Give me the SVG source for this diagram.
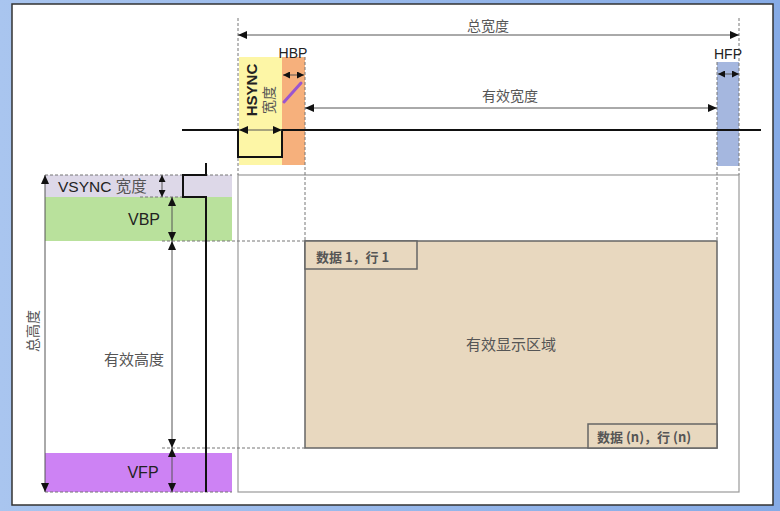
<svg xmlns="http://www.w3.org/2000/svg" width="780" height="511" viewBox="0 0 780 511">
  <defs>
    <linearGradient id="frameGrad" x1="0" y1="0" x2="1" y2="0">
      <stop offset="0" stop-color="#a9c5ef"/>
      <stop offset="1" stop-color="#86abe6"/>
    </linearGradient>
    <marker id="head" viewBox="0 0 9 8" refX="9" refY="4" markerWidth="9" markerHeight="8" markerUnits="userSpaceOnUse" orient="auto-start-reverse">
      <path d="M0,0 L9,4 L0,8 z" fill="#111"/>
    </marker>
    <marker id="headSmall" viewBox="0 0 7 7" refX="7" refY="3.5" markerWidth="7" markerHeight="7" markerUnits="userSpaceOnUse" orient="auto-start-reverse">
      <path d="M0,0 L7,3.5 L0,7 z" fill="#111"/>
    </marker>
    <style>
      .dim { stroke: #555; stroke-width: 1; fill: none; marker-start: url(#head); marker-end: url(#head); }
      .dimS { stroke: #555; stroke-width: 1; fill: none; marker-start: url(#headSmall); marker-end: url(#headSmall); }
      .dash { stroke: #777; stroke-width: 1; stroke-dasharray: 3 2; fill: none; }
      .signal { stroke: #111; stroke-width: 2; fill: none; }
      .lat { font-family: "Liberation Sans", "Noto Sans CJK SC", sans-serif; fill: #222; }
      .cjk { font-family: "Noto Sans CJK SC", "Liberation Sans", sans-serif; fill: #555; }
      .box { stroke: #666; stroke-width: 1.5; }
    </style>
  </defs>

  <!-- window frame and white panel -->
  <rect x="0" y="0" width="780" height="511" fill="url(#frameGrad)"/>
  <rect x="12" y="4" width="761" height="501" fill="#ffffff" stroke="#333" stroke-width="1.5"/>

  <!-- horizontal timing bands -->
  <g id="hsync">
    <rect x="239" y="57" width="43" height="108" fill="#fdf6a6"/>
  </g>
  <g id="hbp">
    <rect x="282" y="57" width="23" height="108" fill="#f6b07c"/>
  </g>
  <g id="hfp">
    <rect x="717" y="62" width="22" height="104" fill="#a5b7df"/>
  </g>

  <!-- vertical timing bands -->
  <g id="vsync">
    <rect x="45" y="175" width="187" height="22" fill="#ddd8e8"/>
  </g>
  <g id="vbp">
    <rect x="45" y="197" width="187" height="44" fill="#b9e19c"/>
  </g>
  <g id="vfp">
    <rect x="45" y="453" width="187" height="39" fill="#cd82f4"/>
  </g>

  <!-- total frame outline -->
  <g id="total-frame">
    <rect x="238" y="175" width="501" height="317" fill="none" stroke="#999" stroke-width="1.2"/>
  </g>

  <!-- active display area -->
  <g id="active-area">
    <rect x="305" y="241" width="412" height="207" fill="#e8d8bf" class="box"/>
    <text x="511" y="350" class="cjk" font-size="15" text-anchor="middle" fill="#444">有效显示区域</text>
  </g>
  <g id="first-pixel">
    <rect x="305" y="241" width="112" height="28" fill="#e8d8bf" class="box"/>
    <text x="316" y="262" class="cjk" font-size="13" font-weight="bold" fill="#444">数据 1，行 1</text>
  </g>
  <g id="last-pixel">
    <rect x="588" y="424" width="129" height="24" fill="#e8d8bf" class="box"/>
    <text x="597" y="442" class="cjk" font-size="13" font-weight="bold" fill="#444">数据 (n)，行 (n)</text>
  </g>

  <!-- connectors: guide lines, signals and dimension arrows -->
  <g id="connectors">
    <line x1="238" y1="18" x2="238" y2="175" class="dash"/>
    <line x1="739" y1="18" x2="739" y2="175" class="dash"/>
    <line x1="305" y1="57" x2="305" y2="241" class="dash"/>
    <line x1="717" y1="62" x2="717" y2="241" class="dash"/>
    <line x1="45" y1="175" x2="232" y2="175" class="dash"/>
    <line x1="140" y1="197" x2="183" y2="197" class="dash"/>
    <line x1="162" y1="241" x2="305" y2="241" class="dash"/>
    <line x1="162" y1="448" x2="305" y2="448" class="dash"/>
    <line x1="45" y1="492" x2="232" y2="492" class="dash"/>

    <path d="M182,130 H238 V157 H282 V130 H761" class="signal"/>
    <path d="M206,163 V175 H183 V197 H206 V492" class="signal"/>

    <line x1="238" y1="35" x2="739" y2="35" class="dim"/>
    <line x1="305" y1="108" x2="717" y2="108" class="dim"/>
    <line x1="239" y1="130" x2="282" y2="130" class="dim"/>
    <line x1="283" y1="75" x2="304" y2="75" class="dimS"/>
    <line x1="718" y1="74" x2="739" y2="74" class="dimS"/>

    <line x1="45" y1="175" x2="45" y2="492" class="dim"/>
    <line x1="162" y1="175" x2="162" y2="197" class="dimS"/>
    <line x1="172" y1="197" x2="172" y2="241" class="dim"/>
    <line x1="172" y1="241" x2="172" y2="448" class="dim"/>
    <line x1="172" y1="448" x2="172" y2="492" class="dim"/>

    <!-- pen stroke -->
    <line x1="301" y1="83" x2="284" y2="102" stroke="#9a55d0" stroke-width="3" stroke-linecap="round"/>
  </g>

  <!-- labels -->
  <g id="labels">
    <text x="488" y="31" class="cjk" font-size="14" text-anchor="middle">总宽度</text>
    <text x="510" y="101" class="cjk" font-size="14" text-anchor="middle">有效宽度</text>
    <text x="293" y="58" class="lat" font-size="14" text-anchor="middle">HBP</text>
    <text x="728" y="59" class="lat" font-size="14" text-anchor="middle">HFP</text>
    <text transform="translate(257,90) rotate(-90)" class="lat" font-size="15" font-weight="bold" text-anchor="middle">HSYNC</text>
    <text transform="translate(274,100) rotate(-90)" class="cjk" font-size="14" text-anchor="middle">宽度</text>
    <text x="58" y="192" class="lat" font-size="15.5">VSYNC <tspan class="cjk" fill="#555">宽度</tspan></text>
    <text x="144" y="225" class="lat" font-size="16" text-anchor="middle">VBP</text>
    <text x="134" y="365" class="cjk" font-size="15" text-anchor="middle">有效高度</text>
    <text x="143" y="478" class="lat" font-size="16" text-anchor="middle">VFP</text>
    <text transform="translate(38,331) rotate(-90)" class="cjk" font-size="14" text-anchor="middle">总高度</text>
  </g>
</svg>
